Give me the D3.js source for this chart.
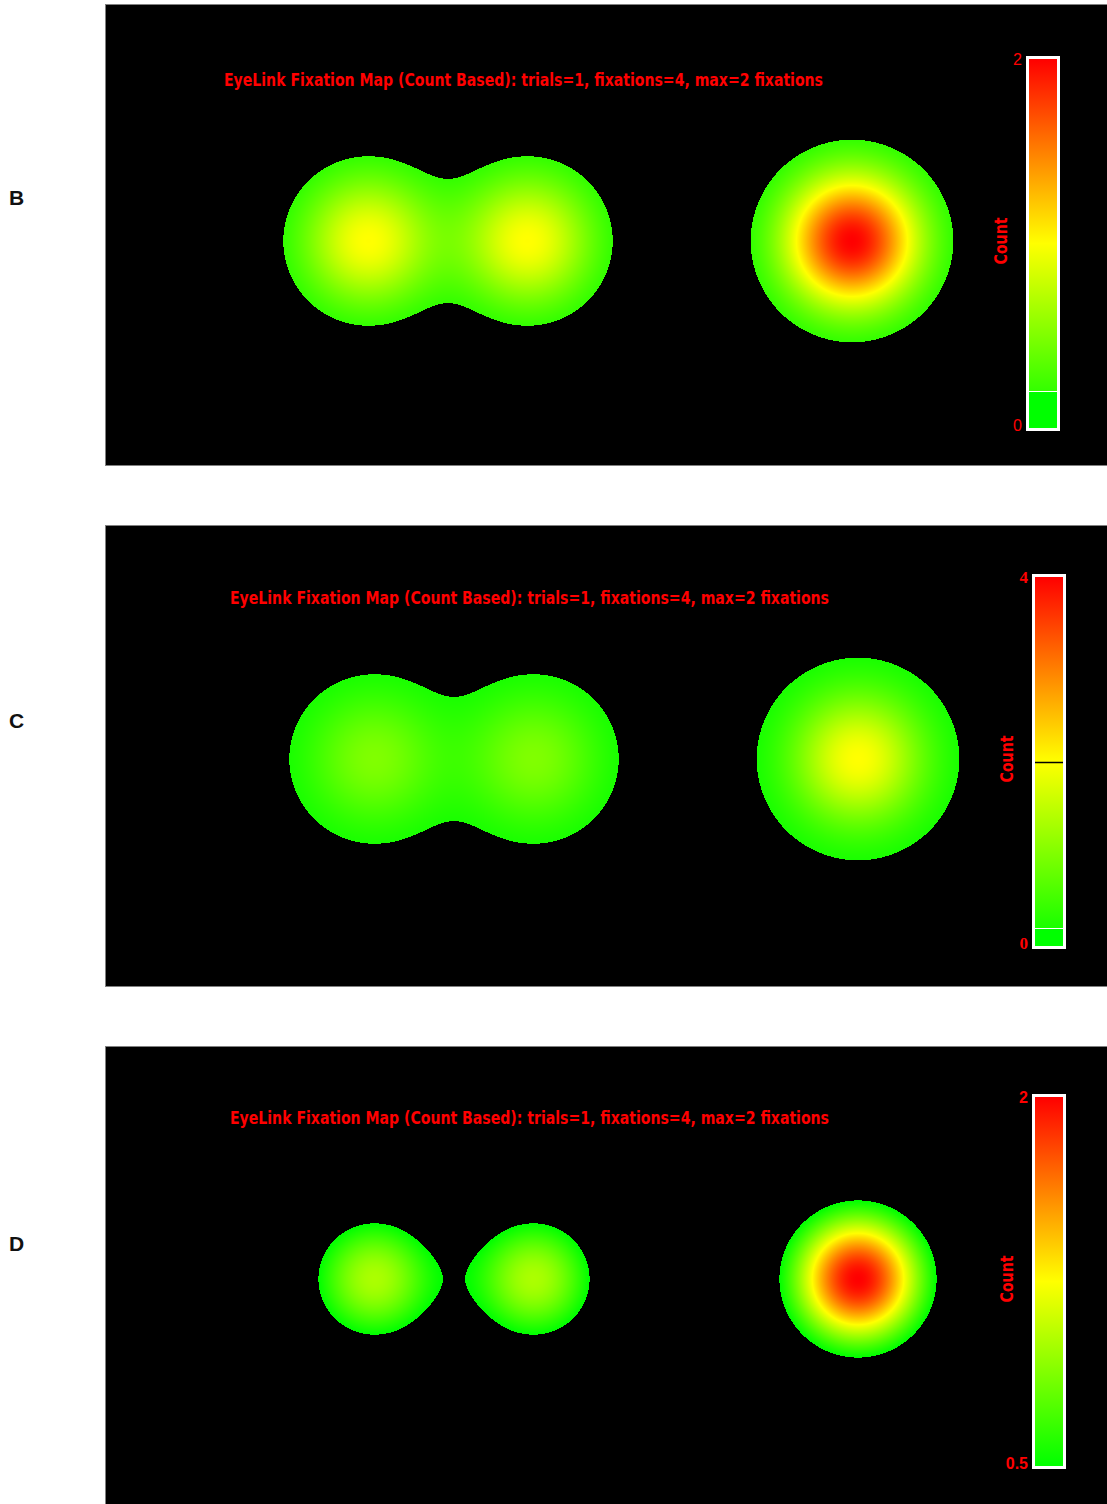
<!DOCTYPE html>
<html><head><meta charset="utf-8">
<script src="https://cdn.jsdelivr.net/npm/d3@7"></script>
<style>html,body{margin:0;padding:0;background:#fff;overflow:hidden}svg{display:block}</style>
</head><body>
<script>
// ---- data ----
const panelLetters = ["B", "C", "D"];
const fixX = [263, 423, 747, 747];          // fixation positions (map units)
const fixY = [237, 237, 237, 237];
const kernelSigma = 47.2;                   // gaussian spread per fixation
const scaleMin = [0, 0, 0.5];
const scaleMax = [2, 4, 2];
const thresholds = [0.2, 0.2, 0.5];
const markerLines = [[], [2], []];
const tickLow = ["0", "0", "0.5"];
const tickHigh = ["2", "4", "2"];
const titleText = "EyeLink Fixation Map (Count Based): trials=1, fixations=4, max=2 fixations";
const axisLabel = "Count";

// ---- layout ----
const W = 1107, H = 1504;
const panelX = 105, panelW = 1010, panelH = 462;
const panelTop = [4, 525, 1046];
const contentDX = [0, 6, 6], contentDY = [0, -3, -4];
const letterY = [205, 727.5, 1250.5];
const tickFonts = [
  {family: "'Liberation Sans', Arial, sans-serif", weight: "normal", size: 16},
  {family: "'Liberation Serif', 'Times New Roman', serif", weight: "bold", size: 17},
  {family: "'Liberation Sans Narrow', 'Arial Narrow', 'Liberation Sans', sans-serif", weight: "bold", size: 16}
];

const svg = d3.select("body").append("svg").attr("width", W).attr("height", H);
const defs = svg.append("defs");
const cmap = d3.scaleLinear().domain([0, 0.5, 1]).range(["#00ff00", "#ffff00", "#ff0000"]).clamp(true);

panelLetters.forEach((letter, p) => {
  // letter label
  svg.append("text").attr("x", 9).attr("y", letterY[p])
    .attr("font-family", "'Liberation Sans', Arial, sans-serif").attr("font-weight", "bold")
    .attr("font-size", 21).attr("fill", "#111").text(letter);

  const g = svg.append("g").attr("transform", `translate(${panelX},${panelTop[p]})`);
  g.append("rect").attr("x", 0.5).attr("y", 0.5).attr("width", panelW).attr("height", panelH - 1)
    .attr("fill", "#000").attr("stroke", "#808080").attr("stroke-width", 1);

  // scales: map units -> panel pixels
  const xs = d3.scaleLinear().domain([0, 1000]).range([contentDX[p], contentDX[p] + 1000]);
  const ys = d3.scaleLinear().domain([0, 1000]).range([contentDY[p], contentDY[p] + 1000]);
  const sx = xs(kernelSigma) - xs(0);
  const vmin = scaleMin[p], vmax = scaleMax[p], thr = thresholds[p];
  const tScale = d3.scaleLinear().domain([vmin, vmax]).range([0, 1]);

  // density map
  const cw = 1002, ch = panelH - 2;
  const canvas = document.createElement("canvas");
  canvas.width = cw; canvas.height = ch;
  const ctx = canvas.getContext("2d");
  const img = ctx.createImageData(cw, ch);
  const fx = fixX.map(v => xs(v) - 1), fy = fixY.map(v => ys(v) - 1);
  const inv2s2 = 1 / (2 * sx * sx);
  for (let j = 0; j < ch; j++) {
    for (let i = 0; i < cw; i++) {
      let v = 0;
      for (let k = 0; k < fx.length; k++) {
        const dx = i + 0.5 - fx[k], dy = j + 0.5 - fy[k];
        v += Math.exp(-(dx * dx + dy * dy) * inv2s2);
      }
      const o = (j * cw + i) * 4;
      if (v >= thr) {
        const c = d3.rgb(cmap(tScale(v)));
        img.data[o] = c.r; img.data[o + 1] = c.g; img.data[o + 2] = c.b; img.data[o + 3] = 255;
      } else {
        img.data[o] = 0; img.data[o + 1] = 0; img.data[o + 2] = 0; img.data[o + 3] = 255;
      }
    }
  }
  ctx.putImageData(img, 0, 0);
  g.append("image").attr("x", 1).attr("y", 1).attr("width", cw).attr("height", ch)
    .attr("preserveAspectRatio", "none").style("image-rendering", "pixelated")
    .attr("href", canvas.toDataURL());

  const c = g.append("g").attr("transform", `translate(${contentDX[p]},${contentDY[p]})`);

  // title
  c.append("text").attr("x", 119).attr("y", 82)
    .attr("font-family", "'Liberation Sans Narrow', 'Arial Narrow', 'DejaVu Sans Condensed', sans-serif")
    .attr("font-weight", "bold").attr("font-size", 18).attr("fill", "#ff0000")
    .attr("textLength", 599).attr("lengthAdjust", "spacingAndGlyphs").text(titleText);

  // colour bar
  const barX = 924, barW = 28, barTop = 55, barBot = 424;
  const yBar = d3.scaleLinear().domain([vmin, vmax]).range([barBot, barTop]);
  const tThr = tScale(thr);
  const gid = "grad" + p;
  const grad = defs.append("linearGradient").attr("id", gid)
    .attr("x1", 0).attr("y1", 1).attr("x2", 0).attr("y2", 0);
  const stops = [[0, cmap(0)], [tThr, cmap(0)], [tThr, cmap(tThr)], [0.5, cmap(0.5)], [1, cmap(1)]];
  grad.selectAll("stop").data(stops).join("stop")
    .attr("offset", d => d[0]).attr("stop-color", d => d[1]);
  c.append("rect").attr("x", barX - 1.5).attr("y", barTop - 1.5)
    .attr("width", barW + 3).attr("height", barBot - barTop + 3)
    .attr("fill", "none").attr("stroke", "#ffffff").attr("stroke-width", 3);
  c.append("rect").attr("x", barX).attr("y", barTop).attr("width", barW).attr("height", barBot - barTop)
    .attr("fill", `url(#${gid})`);
  if (thr > vmin) {
    c.append("line").attr("x1", barX).attr("x2", barX + barW)
      .attr("y1", Math.round(yBar(thr)) + 0.5).attr("y2", Math.round(yBar(thr)) + 0.5)
      .attr("stroke", "#ffffff").attr("stroke-width", 1);
  }
  c.selectAll("line.mk").data(markerLines[p]).join("line").attr("class", "mk")
    .attr("x1", barX).attr("x2", barX + barW)
    .attr("y1", d => Math.round(yBar(d)) + 0.5).attr("y2", d => Math.round(yBar(d)) + 0.5)
    .attr("stroke", "#000").attr("stroke-width", 1.5);

  // tick labels
  const tf = tickFonts[p];
  [[tickHigh[p], 61], [tickLow[p], 427]].forEach(([t, yy]) => {
    c.append("text").attr("x", 917).attr("y", yy).attr("text-anchor", "end")
      .attr("font-family", tf.family).attr("font-weight", tf.weight).attr("font-size", tf.size)
      .attr("fill", "#ff0000").text(t);
  });

  // axis label
  c.append("text").attr("transform", "translate(902,237) rotate(-90)")
    .attr("text-anchor", "middle")
    .attr("font-family", "'Liberation Sans Narrow', 'Arial Narrow', 'DejaVu Sans Condensed', sans-serif")
    .attr("font-weight", "bold").attr("font-size", 18).attr("fill", "#ff0000")
    .attr("textLength", 47).attr("lengthAdjust", "spacingAndGlyphs").text(axisLabel);
});
</script>
</body></html>
